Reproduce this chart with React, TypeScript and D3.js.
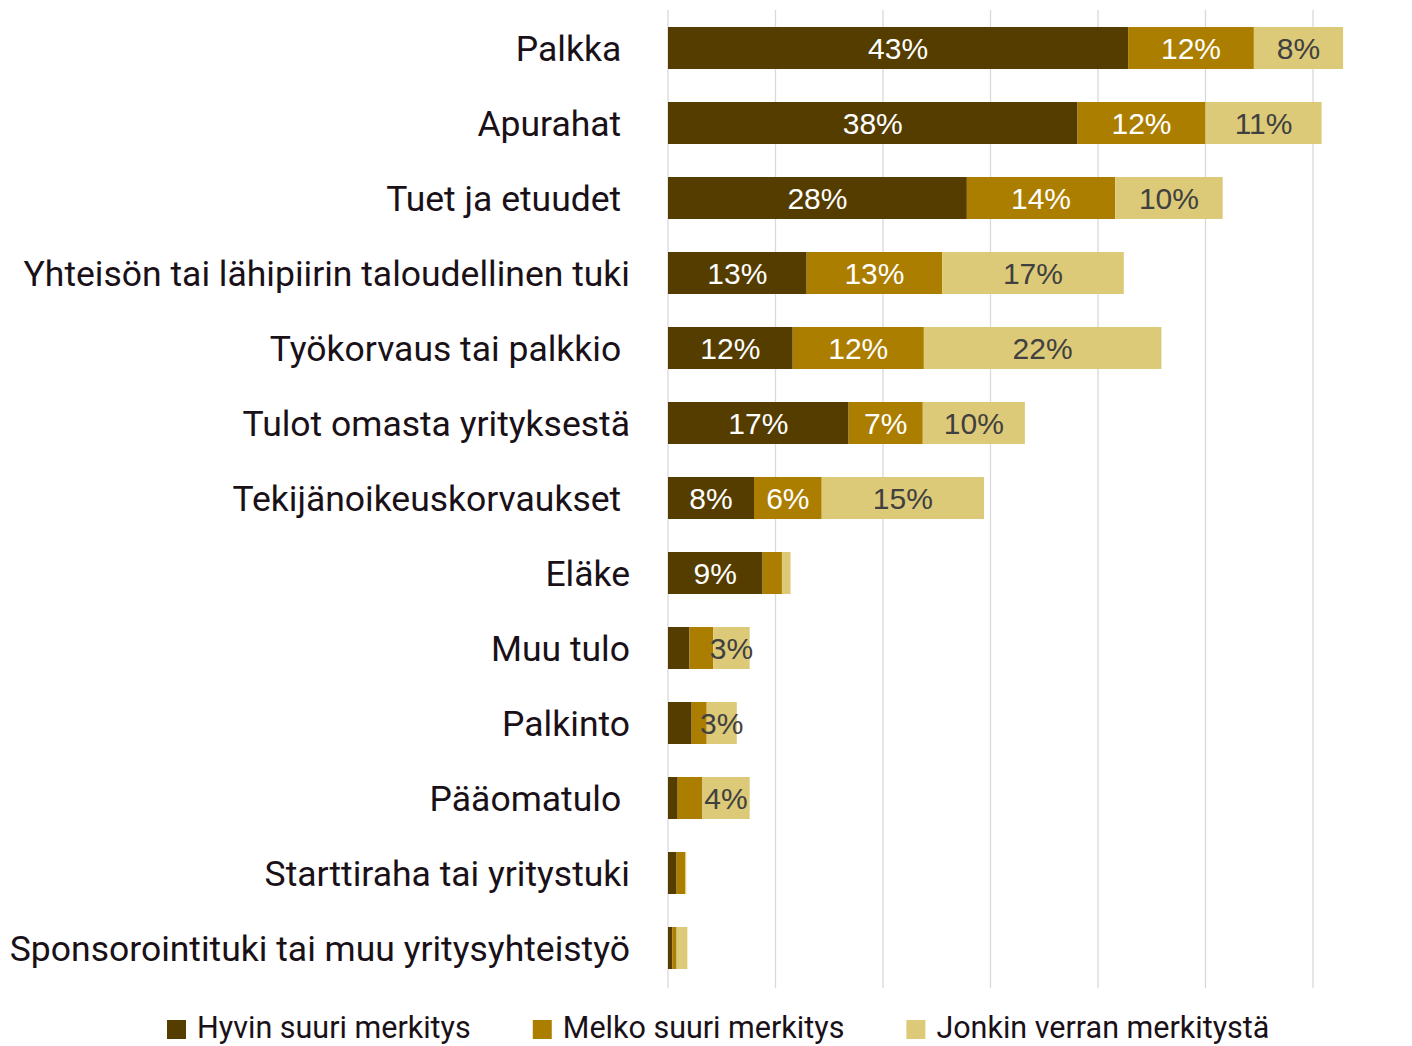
import React, { useEffect, useRef } from 'react'
import { select, scaleLinear, scaleBand, range } from 'd3'

// rivit ylhäältä alas (osa nimistä päättyy välilyöntiin kuten alkuperäisessä)
const categories = [
  'Palkka ',
  'Apurahat ',
  'Tuet ja etuudet ',
  'Yhteisön tai lähipiirin taloudellinen tuki',
  'Työkorvaus tai palkkio ',
  'Tulot omasta yrityksestä',
  'Tekijänoikeuskorvaukset ',
  'Eläke',
  'Muu tulo',
  'Palkinto',
  'Pääomatulo ',
  'Starttiraha tai yritystuki',
  'Sponsorointituki tai muu yritysyhteistyö',
]

// prosentit
const hyvinSuuri = [42.8, 38.1, 27.8, 12.9, 11.6, 16.8, 8.0, 8.8, 2.0, 2.2, 0.9, 0.8, 0.4]
const melkoSuuri = [11.7, 11.9, 13.8, 12.6, 12.2, 6.9, 6.3, 1.8, 2.2, 1.4, 2.3, 0.8, 0.4]
const jonkinVerran = [8.3, 10.8, 10.0, 16.9, 22.1, 9.5, 15.1, 0.8, 3.4, 2.8, 4.4, 0.1, 1.0]

const seriesNames = ['Hyvin suuri merkitys', 'Melko suuri merkitys', 'Jonkin verran merkitystä']
const seriesColors = ['#553d00', '#ab7e00', '#ddca78']
const labelColors = ['#ffffff', '#ffffff', '#404040']

const xTicks = [0, 10, 20, 30, 40, 50, 60]

const W = 1412
const H = 1046

const catFont = 'Roboto, "Liberation Sans", sans-serif'
const numFont = '"Liberation Sans", Arial, sans-serif'

const App = () => {
  const svgRef = useRef<SVGSVGElement>(null)

  useEffect(() => {
    const svg = select(svgRef.current)
    svg.selectAll('*').remove()

    const x = scaleLinear().domain([0, 60]).range([668, 1313])
    const y = scaleBand<string>()
      .domain(categories)
      .range([10.5, 985.5])
      .paddingInner(0.44)
      .paddingOuter(0.22)

    // gridlines
    svg
      .append('g')
      .selectAll('line')
      .data(xTicks)
      .join('line')
      .attr('x1', d => x(d))
      .attr('x2', d => x(d))
      .attr('y1', 10)
      .attr('y2', 988)
      .attr('stroke', '#d9d9d9')
      .attr('stroke-width', 1.3)

    const series = [hyvinSuuri, melkoSuuri, jonkinVerran]
    const rows = categories.map((c, i) => {
      let acc = 0
      return series.map((s, k) => {
        const x0 = acc
        acc += s[i]
        return { cat: c, k, v: s[i], x0, x1: acc }
      })
    })
    const segs = rows.flat()

    svg
      .append('g')
      .selectAll('rect')
      .data(segs)
      .join('rect')
      .attr('x', d => x(d.x0))
      .attr('width', d => x(d.x1) - x(d.x0))
      .attr('y', d => y(d.cat)!)
      .attr('height', y.bandwidth())
      .attr('fill', d => seriesColors[d.k])

    // data labels
    svg
      .append('g')
      .selectAll('text')
      .data(segs.filter(d => d.v >= 2.5))
      .join('text')
      .attr('x', d => (x(d.x0) + x(d.x1)) / 2)
      .attr('y', d => y(d.cat)! + y.bandwidth() / 2)
      .attr('dy', '0.36em')
      .attr('text-anchor', 'middle')
      .attr('font-family', numFont)
      .attr('font-size', 30)
      .attr('fill', d => labelColors[d.k])
      .text(d => `${Math.round(d.v)}%`)

    // category labels
    svg
      .append('g')
      .selectAll('text')
      .data(categories)
      .join('text')
      .attr('x', 630)
      .attr('y', d => y(d)! + y.bandwidth() / 2)
      .attr('dy', '0.36em')
      .attr('text-anchor', 'end')
      .attr('font-family', catFont)
      .attr('font-size', 35.5)
      .attr('fill', '#1a1118')
      .style('white-space', 'pre')
      .text(d => d)

    // legend
    const legend = svg.append('g')
    let lx = 167
    range(seriesNames.length).forEach(k => {
      legend
        .append('rect')
        .attr('x', lx)
        .attr('y', 1020)
        .attr('width', 19)
        .attr('height', 19)
        .attr('fill', seriesColors[k])
      const t = legend
        .append('text')
        .attr('x', lx + 30)
        .attr('y', 1038)
        .attr('font-family', catFont)
        .attr('font-size', 30.5)
        .attr('fill', '#1a1118')
        .text(seriesNames[k])
      const tw = (t.node() as SVGTextElement).getComputedTextLength()
      lx += 30 + tw + 62
    })
  }, [])

  return (
    <div style={{ position: 'absolute', left: 0, top: 0 }}>
      <svg ref={svgRef} width={W} height={H} style={{ display: 'block', background: '#fff' }} />
    </div>
  )
}

export default App
